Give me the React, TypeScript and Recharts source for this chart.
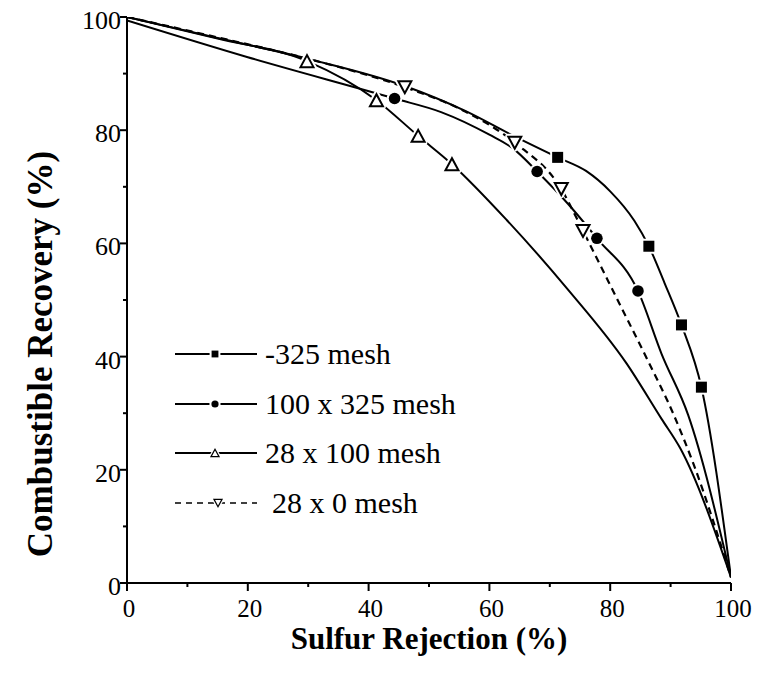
import React from "react";
import { LineChart, Line, XAxis, YAxis } from "recharts";

// -325 mesh (filled squares)
const X_325 = [0, 15, 30, 46, 56, 64, 71.3, 76, 80, 84, 86.4, 89, 91.8, 95.1, 100];
const Y_325 = [100, 96.3, 92.6, 87.8, 83.4, 79, 75.2, 72.8, 69.2, 64, 59.5, 53, 45.6, 34.6, 1];
const M_325 = [71.3, 86.4, 91.8, 95.1];

// 100 x 325 mesh (filled circles)
const X_100_325 = [0, 20, 44.3, 52, 60, 64, 67.9, 73, 77.8, 84.6, 88.5, 92.9, 100];
const Y_100_325 = [99.4, 92.9, 85.6, 83.2, 79.2, 76.7, 72.7, 67, 60.9, 51.6, 40.5, 29.7, 1];
const M_100_325 = [44.3, 67.9, 77.8, 84.6];

// 28 x 100 mesh (open triangles)
const X_28_100 = [0, 15, 29.8, 41.3, 48.2, 53.8, 62.9, 72.8, 82.7, 88.5, 91.6, 100];
const Y_28_100 = [100, 96.2, 92.2, 85.3, 79, 74, 64.1, 52.1, 38.8, 29, 23.8, 1];
const M_28_100 = [29.8, 41.3, 48.2, 53.8];

// 28 x 0 mesh (open inverted triangles, dashed)
const X_28_0 = [0, 15, 30, 46, 56, 64.2, 71.9, 75.5, 81.6, 86, 90.4, 93.8, 100];
const Y_28_0 = [100, 96.4, 92.6, 87.6, 83.3, 77.8, 69.6, 62.2, 49.2, 39.8, 30, 21, 1];
const M_28_0 = [46, 64.2, 71.9, 75.5];

const TICKS = [0, 10, 20, 30, 40, 50, 60, 70, 80, 90, 100];
const LEGEND = ["-325 mesh", "100 x 325 mesh", "28 x 100 mesh", "28 x 0 mesh"];

const rows = (xs: number[], ys: number[], marks: number[]) =>
  xs.map((x, i) => ({ x, y: ys[i], m: marks.includes(x) }));

const SERIF = "Liberation Serif";

function Marker({ kind, cx, cy, s = 1 }: { kind: string; cx: number; cy: number; s?: number }) {
  if (kind === "square") {
    const a = 11 * s;
    return (
      <g>
        <rect x={cx - a / 2 - 2} y={cy - a / 2 - 2} width={a + 4} height={a + 4} fill="#fff" />
        <rect x={cx - a / 2} y={cy - a / 2} width={a} height={a} fill="#000" />
      </g>
    );
  }
  if (kind === "circle") {
    const r = 5.8 * s;
    return (
      <g>
        <circle cx={cx} cy={cy} r={r + 2} fill="#fff" />
        <circle cx={cx} cy={cy} r={r} fill="#000" />
      </g>
    );
  }
  const h = 12 * s;
  const w = 13 * s;
  const dir = kind === "tri" ? 1 : -1;
  const pts = `${cx},${cy - (dir * h) / 2} ${cx - w / 2},${cy + (dir * h) / 2} ${cx + w / 2},${cy + (dir * h) / 2}`;
  return (
    <g>
      <polygon points={pts} fill="#fff" stroke="#fff" strokeWidth={6 * s} strokeLinejoin="round" />
      <polygon points={pts} fill="#fff" stroke="#000" strokeWidth={2 * s} strokeLinejoin="miter" />
    </g>
  );
}

const dotFor = (kind: string) => (p: any) =>
  p.payload && p.payload.m ? (
    <Marker key={`${kind}-${p.index}`} kind={kind} cx={p.cx} cy={p.cy} />
  ) : (
    <g key={`${kind}-${p.index}`} />
  );

function BottomTick(props: any) {
  const { x, y, payload } = props;
  const major = payload.value % 20 === 0;
  return (
    <g>
      <line x1={x} y1={y} x2={x} y2={y + (major ? 8 : 4)} stroke="#000" strokeWidth={2} />
      {major && (
        <text x={x + 2} y={y + 34} textAnchor="middle" style={{ fontFamily: SERIF, fontSize: 25 }} fill="#000">
          {payload.value}
        </text>
      )}
    </g>
  );
}

function LeftTick(props: any) {
  const { x, y, payload } = props;
  const major = payload.value % 20 === 0;
  return (
    <g>
      <line x1={x - (major ? 7 : 4)} y1={y} x2={x} y2={y} stroke="#000" strokeWidth={2} />
      {major && (
        <text x={x - 6} y={y + 12} textAnchor="end" style={{ fontFamily: SERIF, fontSize: 26 }} fill="#000">
          {payload.value}
        </text>
      )}
    </g>
  );
}

function RightTick(props: any) {
  const { x, y } = props;
  return <line x1={x - 6} y1={y} x2={x} y2={y} stroke="#000" strokeWidth={1.5} />;
}

const KINDS = ["square", "circle", "tri", "itri"];

export default function App() {
  return (
    <div style={{ position: "absolute", left: 0, top: 0, width: 765, height: 685, background: "#fff" }}>
      <LineChart width={765} height={685} margin={{ top: 17, right: 34, left: 67, bottom: 0 }}>
        <XAxis
          xAxisId="b"
          type="number"
          dataKey="x"
          domain={[0, 100]}
          ticks={TICKS}
          interval={0}
          height={102}
          tickSize={0}
          tickMargin={0}
          tickLine={false}
          axisLine={{ stroke: "#000", strokeWidth: 2 }}
          tick={<BottomTick />}
          allowDataOverflow
        />
        <XAxis
          xAxisId="t"
          orientation="top"
          type="number"
          domain={[0, 100]}
          height={0}
          tick={false}
          tickLine={false}
          axisLine={{ stroke: "#000", strokeWidth: 2 }}
          allowDataOverflow
        />
        <YAxis
          yAxisId="l"
          type="number"
          dataKey="y"
          domain={[0, 100]}
          ticks={TICKS}
          interval={0}
          width={60}
          tickSize={0}
          tickMargin={0}
          tickLine={false}
          axisLine={{ stroke: "#000", strokeWidth: 2 }}
          tick={<LeftTick />}
          allowDataOverflow
        />
        <YAxis
          yAxisId="r"
          orientation="right"
          type="number"
          domain={[0, 100]}
          ticks={TICKS}
          interval={0}
          width={0}
          tickSize={0}
          tickMargin={0}
          tickLine={false}
          tick={<RightTick />}
          axisLine={{ stroke: "#000", strokeWidth: 2 }}
          allowDataOverflow
        />
        <Line
          xAxisId="b"
          yAxisId="l"
          data={rows(X_28_100, Y_28_100, M_28_100)}
          dataKey="y"
          type="monotone"
          stroke="#000"
          strokeWidth={2}
          dot={dotFor("tri")}
          activeDot={false}
          isAnimationActive={false}
        />
        <Line
          xAxisId="b"
          yAxisId="l"
          data={rows(X_28_0, Y_28_0, M_28_0)}
          dataKey="y"
          type="monotone"
          stroke="#000"
          strokeWidth={2.2}
          strokeDasharray="7 5"
          dot={dotFor("itri")}
          activeDot={false}
          isAnimationActive={false}
        />
        <Line
          xAxisId="b"
          yAxisId="l"
          data={rows(X_100_325, Y_100_325, M_100_325)}
          dataKey="y"
          type="monotone"
          stroke="#000"
          strokeWidth={2}
          dot={dotFor("circle")}
          activeDot={false}
          isAnimationActive={false}
        />
        <Line
          xAxisId="b"
          yAxisId="l"
          data={rows(X_325, Y_325, M_325)}
          dataKey="y"
          type="monotone"
          stroke="#000"
          strokeWidth={2}
          dot={dotFor("square")}
          activeDot={false}
          isAnimationActive={false}
        />
      </LineChart>

      {/* legend */}
      {LEGEND.map((name, i) => {
        const cy = 354 + i * 49.5;
        const dashed = i === 3;
        return (
          <div key={name}>
            <svg width={92} height={20} style={{ position: "absolute", left: 172, top: cy - 10 }}>
              <line
                x1={3}
                y1={10}
                x2={85}
                y2={10}
                stroke="#000"
                strokeWidth={dashed ? 1.6 : 2}
                strokeDasharray={dashed ? "6 5" : undefined}
              />
              <Marker kind={KINDS[i]} cx={dashed ? 46 : 43} cy={10} s={0.62} />
            </svg>
            <div
              style={{
                position: "absolute",
                left: dashed ? 272 : 265,
                top: cy - 18,
                lineHeight: "36px",
                fontFamily: SERIF,
                fontSize: 30,
                whiteSpace: "nowrap",
                color: "#000",
              }}
            >
              {name}
            </div>
          </div>
        );
      })}

      {/* axis titles */}
      <div
        style={{
          position: "absolute",
          left: 127,
          width: 604,
          top: 625,
          lineHeight: "28px",
          textAlign: "center",
          fontFamily: SERIF,
          fontWeight: "bold",
          fontSize: 31,
          color: "#000",
        }}
      >
        Sulfur Rejection (%)
      </div>
      <div
        style={{
          position: "absolute",
          left: 41 - 250,
          top: 354 - 20,
          width: 500,
          height: 40,
          lineHeight: "40px",
          textAlign: "center",
          transform: "rotate(-90deg)",
          fontFamily: SERIF,
          fontWeight: "bold",
          fontSize: 35,
          color: "#000",
          whiteSpace: "nowrap",
        }}
      >
        Combustible Recovery (%)
      </div>
    </div>
  );
}
